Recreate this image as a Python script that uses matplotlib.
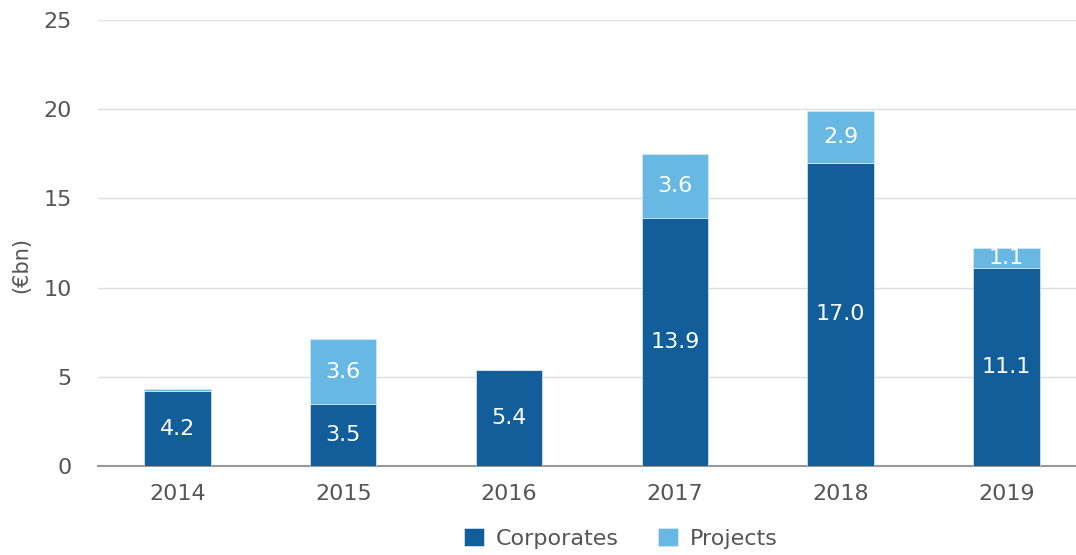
import matplotlib.pyplot as plt
import numpy as np

years = ['2014', '2015', '2016', '2017', '2018', '2019']
corporates = [4.2, 3.5, 5.4, 13.9, 17.0, 11.1]
projects = [0.1, 3.6, 0.0, 3.6, 2.9, 1.1]

dark = '#115e9a'
light = '#67b8e3'
txt = '#555555'

plt.rcParams['font.family'] = ['DejaVu Sans']

fig = plt.figure(figsize=(10.76, 5.55), dpi=100)
ax = fig.add_axes([0.091, 0.160, 0.909, 0.804])

x = np.arange(len(years))
w = 0.4
b1 = ax.bar(x, corporates, w, color=dark, edgecolor='#dbe9f4', linewidth=0.5, label='Corporates', zorder=3)
b2 = ax.bar(x, projects, w, bottom=corporates, color=light, edgecolor='#dbe9f4', linewidth=0.5, label='Projects', zorder=3)

# data labels (skip tiny / empty segments)
for i in range(len(years)):
    ax.text(x[i], corporates[i] / 2, f'{corporates[i]:.1f}', ha='center', va='center',
            color='white', fontsize=16, zorder=4)
    if projects[i] >= 1:
        ax.text(x[i], corporates[i] + projects[i] / 2, f'{projects[i]:.1f}', ha='center', va='center',
                color='white', fontsize=16, zorder=4)

ax.set_xlim(-0.48, 5.42)
ax.set_ylim(0, 25)
ax.set_yticks([0, 5, 10, 15, 20, 25])
ax.set_xticks(x)
ax.set_xticklabels(years)
ax.yaxis.grid(True, color='#dddddd', linewidth=1, zorder=0)
ax.set_axisbelow(True)
for s in ['top', 'right', 'left']:
    ax.spines[s].set_visible(False)
ax.spines['bottom'].set_color('#999999')
ax.spines['bottom'].set_linewidth(1.5)
ax.tick_params(axis='both', length=0, labelsize=16, colors=txt)
ax.tick_params(axis='x', pad=13)
ax.tick_params(axis='y', pad=19)
ax.set_ylabel('(€bn)', fontsize=15, color=txt)
ax.yaxis.set_label_coords(-0.068, 0.45)

fig.legend(handles=[b1, b2], loc='lower center', bbox_to_anchor=(0.577, -0.025), ncol=2, frameon=False,
           fontsize=16, handlelength=0.9, handleheight=0.9, columnspacing=1.8, handletextpad=0.5,
           labelcolor=txt)

fig.savefig('out.png', dpi=100)
